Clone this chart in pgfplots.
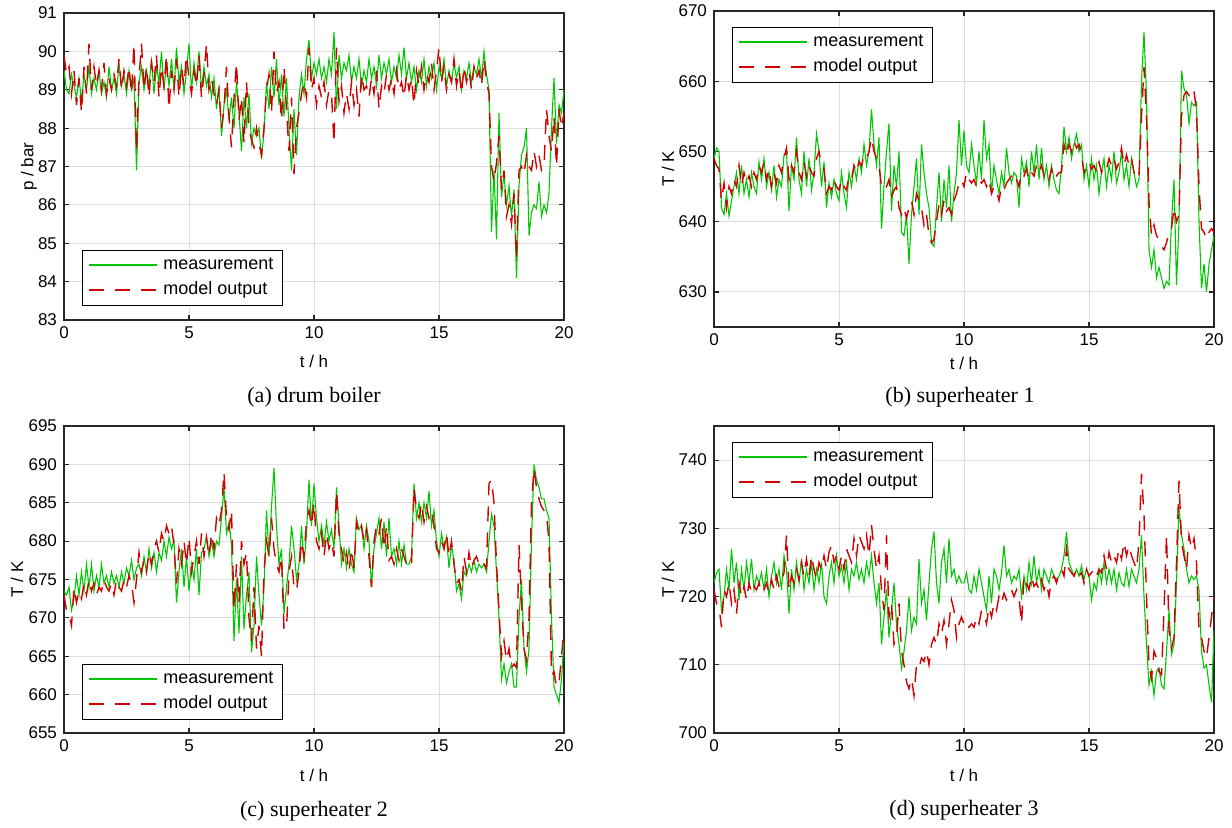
\documentclass[border=0pt]{standalone}
\usepackage{pgfplots}
\pgfplotsset{compat=1.18}
\usepackage{pgfplotstable}
\usepackage{fontspec}
\setmainfont{Liberation Serif}
\setsansfont{Liberation Sans}
\definecolor{meas}{RGB}{0,200,0}
\definecolor{mod}{RGB}{210,0,0}
\definecolor{gridc}{RGB}{222,222,222}
\definecolor{axc}{RGB}{38,38,38}

\pgfplotstableread{
t m o
0.0 89.5 89.9
0.1 89.0 89.4
0.2 88.9 89.6
0.3 89.4 88.9
0.4 89.1 89.5
0.5 88.8 88.6
0.6 89.3 89.3
0.7 88.7 88.4
0.8 89.4 89.6
0.9 89.0 88.9
1.0 89.6 90.2
1.1 88.9 89.0
1.2 89.3 89.6
1.3 89.0 89.1
1.4 89.5 89.5
1.5 88.9 89.0
1.6 89.2 89.7
1.7 88.8 88.9
1.8 89.6 89.3
1.9 89.0 89.0
2.0 89.3 89.4
2.1 88.9 89.1
2.2 89.7 89.8
2.3 89.1 89.0
2.4 89.4 89.5
2.5 88.9 89.1
2.6 89.5 89.6
2.7 89.0 88.9
2.8 89.3 90.2
2.9 86.9 87.4
3.0 89.2 89.3
3.1 89.6 90.2
3.2 89.0 89.0
3.3 89.5 89.6
3.4 89.1 88.8
3.5 89.8 89.7
3.6 88.9 89.2
3.7 89.6 89.9
3.8 89.2 88.8
3.9 90.0 89.6
4.0 89.0 89.1
4.1 89.7 89.9
4.2 89.1 88.5
4.3 89.8 89.5
4.4 89.0 89.0
4.5 90.1 89.8
4.6 89.2 88.8
4.7 89.6 89.6
4.8 88.9 89.1
4.9 89.5 89.9
5.0 90.2 89.3
5.1 89.0 88.9
5.2 89.7 89.5
5.3 89.2 89.1
5.4 90.0 89.9
5.5 89.0 88.8
5.6 89.6 89.4
5.7 89.1 90.2
5.8 89.4 89.0
5.9 88.8 89.3
6.0 89.3 88.9
6.1 88.5 88.6
6.2 89.1 89.0
6.3 87.8 88.0
6.4 88.6 88.5
6.5 89.0 89.6
6.6 88.2 88.3
6.7 88.8 87.5
6.8 88.0 88.8
6.9 89.2 89.7
7.0 88.4 88.2
7.1 87.4 88.8
7.2 88.8 87.6
7.3 88.0 89.2
7.4 88.9 88.0
7.5 87.6 87.7
7.6 88.0 87.5
7.7 87.8 88.0
7.8 88.0 87.6
7.9 87.2 87.3
8.0 87.9 88.0
8.1 89.2 89.0
8.2 88.5 89.4
8.3 89.6 88.4
8.4 88.8 90.0
8.5 89.8 88.9
8.6 88.6 89.2
8.7 89.4 88.2
8.8 88.3 89.6
8.9 89.3 88.5
9.0 88.0 87.4
9.1 86.9 88.8
9.2 88.5 86.8
9.3 87.3 88.0
9.4 88.8 88.4
9.5 89.4 88.9
9.6 88.9 89.2
9.7 89.8 88.8
9.8 90.3 90.1
9.9 89.3 89.0
10.0 89.7 89.3
10.1 89.4 88.6
10.2 89.8 89.1
10.3 89.3 88.8
10.4 89.6 89.2
10.5 89.2 88.6
10.6 89.8 89.0
10.7 89.4 88.9
10.8 90.5 87.6
10.9 88.5 90.1
11.0 89.9 88.7
11.1 89.3 89.1
11.2 89.7 88.4
11.3 89.5 88.9
11.4 89.9 88.5
11.5 89.2 89.2
11.6 89.6 88.6
11.7 89.3 89.0
11.8 89.8 88.3
11.9 89.1 89.4
12.0 89.5 89.0
12.1 89.2 89.1
12.2 89.8 88.8
12.3 89.3 89.3
12.4 89.6 88.9
12.5 89.1 89.5
12.6 89.9 88.5
12.7 89.3 89.1
12.8 89.7 88.9
12.9 89.4 89.4
13.0 89.8 89.0
13.1 89.2 89.3
13.2 89.6 88.9
13.3 89.3 89.5
13.4 89.9 89.0
13.5 89.4 89.2
13.6 90.1 88.8
13.7 89.3 89.4
13.8 89.7 89.0
13.9 89.2 89.3
14.0 89.6 88.6
14.1 89.0 89.5
14.2 89.5 89.1
14.3 89.2 89.6
14.4 89.8 89.0
14.5 89.1 89.4
14.6 89.6 89.2
14.7 89.3 89.7
14.8 89.7 89.0
14.9 89.0 89.5
15.0 89.6 90.1
15.1 89.3 89.2
15.2 89.8 89.6
15.3 89.1 89.0
15.4 89.5 89.4
15.5 89.2 89.2
15.6 89.7 89.8
15.7 89.3 89.1
15.8 89.6 89.5
15.9 89.0 88.9
16.0 89.5 89.6
16.1 89.3 89.2
16.2 89.7 89.5
16.3 89.2 89.0
16.4 89.6 89.6
16.5 89.4 89.3
16.6 89.8 89.5
16.7 89.3 89.1
16.8 90.0 89.8
16.9 89.4 89.2
17.0 89.0 88.9
17.1 85.3 87.0
17.2 86.9 86.6
17.3 85.1 87.1
17.4 88.4 87.8
17.5 86.2 86.4
17.6 86.8 86.9
17.7 86.0 85.7
17.8 86.5 86.0
17.9 85.7 85.5
18.0 86.4 86.3
18.1 84.1 84.6
18.2 86.5 86.9
18.3 87.3 87.0
18.4 87.5 86.8
18.5 88.0 87.3
18.6 85.2 87.0
18.7 85.8 86.9
18.8 86.0 87.4
18.9 85.9 87.0
19.0 86.6 87.3
19.1 85.7 86.9
19.2 86.0 87.0
19.3 85.8 88.5
19.4 86.3 87.8
19.5 88.0 87.4
19.6 89.3 88.3
19.7 87.6 87.0
19.8 88.6 88.5
19.9 88.4 88.0
20.0 89.0 88.4
}\dataA

\pgfplotstableread{
t m o
0.0 649 649
0.1 650.5 648
0.2 650 647.5
0.3 642 643
0.4 641 645.5
0.5 644 642
0.6 640.8 645
0.7 643 644
0.8 645 646
0.9 647 645
1.0 644 648
1.1 648 645
1.2 644 647
1.3 646 645.5
1.4 643.5 646.5
1.5 647 645
1.6 645 647
1.7 644 646
1.8 648.5 648
1.9 646 647
2.0 649 648.5
2.1 645 646
2.2 647 647.5
2.3 644.5 645
2.4 648 647
2.5 643.5 645.5
2.6 646 648
2.7 645 647
2.8 649.5 649
2.9 650 650.5
3.0 641.5 646
3.1 648 648
3.2 646 647
3.3 652 650
3.4 646 647
3.5 644 646
3.6 650 648.5
3.7 645 646.5
3.8 649 648
3.9 644.5 647
4.0 647 646.5
4.1 652.5 649
4.2 650 650
4.3 645 648
4.4 648.5 647.5
4.5 642 644
4.6 645.5 645
4.7 643.5 644.5
4.8 646 646
4.9 644 645
5.0 643 644.5
5.1 647 646
5.2 644 645
5.3 642 644.5
5.4 647 646.5
5.5 645 646
5.6 648 648
5.7 646 647
5.8 649 648.5
5.9 647 648
6.0 651 649.5
6.1 648 649
6.2 650 650
6.3 656 652
6.4 651 650
6.5 648 649
6.6 652 648
6.7 639 645
6.8 645 645.5
6.9 650 645
7.0 654 646
7.1 641.5 643.5
7.2 648 644.5
7.3 645 645
7.4 650 642
7.5 638.5 641
7.6 638 642
7.7 641 640.5
7.8 634 642
7.9 641 643
8.0 645 641
8.1 649 644
8.2 641 643
8.3 651 642
8.4 647 639.5
8.5 644 641
8.6 642 638
8.7 637 637
8.8 636.5 637.5
8.9 642 640
9.0 647 642.5
9.1 640 641
9.2 646 643
9.3 642 641.5
9.4 648 642
9.5 640 641
9.6 644 643
9.7 647 644
9.8 654.5 645.5
9.9 648 646
10.0 653 645
10.1 648 647
10.2 647 646
10.3 651 645.5
10.4 648 646
10.5 645.5 645
10.6 650 646
10.7 646 645.5
10.8 654.5 646
10.9 649 645
11.0 651 646
11.1 644 644
11.2 648 645
11.3 646 644.5
11.4 644 643
11.5 647 645
11.6 645 644.5
11.7 650.5 645.5
11.8 647 646
11.9 645.5 646.5
12.0 647 647
12.1 646.5 646
12.2 642 645
12.3 649 647
12.4 647 646.5
12.5 648.5 647.5
12.6 645 646
12.7 650 647
12.8 647 646.5
12.9 651 648
13.0 646 647
13.1 650.5 648
13.2 646 646.5
13.3 648 647
13.4 645 646
13.5 648 647.5
13.6 646 646
13.7 644.5 646.5
13.8 644 647
13.9 648 647
14.0 653.5 651
14.1 650 649.5
14.2 652 651
14.3 649 650
14.4 651 651.5
14.5 652.5 650.5
14.6 650 651
14.7 651 649.5
14.8 646 647
14.9 648 648
15.0 645 648.5
15.1 649 647.5
15.2 646 648
15.3 648 647
15.4 644 648.5
15.5 647 647
15.6 649 648
15.7 645 647.5
15.8 648 649
15.9 646 648
16.0 650 649
16.1 645.5 647.5
16.2 647 648.5
16.3 650 650.5
16.4 646 648
16.5 648 649.5
16.6 645 648
16.7 649 649
16.8 647 647
16.9 645 646
17.0 646 646.5
17.1 660 655
17.2 667 662
17.3 658 655
17.4 636 643
17.5 633.5 638
17.6 636 639.5
17.7 632 638
17.8 633.5 637.5
17.9 632 636.5
18.0 630.5 636
18.1 631.5 637
18.2 631 638.5
18.3 640 639
18.4 646 642
18.5 631 640
18.6 640 641
18.7 661.5 655
18.8 659 658
18.9 658 658.5
19.0 654 658
19.1 657 659
19.2 656.5 658.5
19.3 657 656
19.4 640 645
19.5 630.5 639
19.6 634 638.5
19.7 630 637.5
19.8 634 638.5
19.9 636 639
20.0 638 638.5
}\dataB

\pgfplotstableread{
t m o
0.0 673.5 673
0.1 673 671
0.2 674 670.5
0.3 671 669
0.4 672.5 674
0.5 675.5 672
0.6 673 673.5
0.7 676 672.5
0.8 673.5 674.5
0.9 677 673
1.0 674 675
1.1 677 673.5
1.2 673.5 674.5
1.3 675.5 673
1.4 674 674
1.5 677 673.5
1.6 674.5 675
1.7 675.5 674
1.8 674 673.5
1.9 676 674.5
2.0 674.5 673
2.1 675.5 675
2.2 674 674
2.3 676 673.5
2.4 674.5 675
2.5 676.5 674
2.6 675.5 675.5
2.7 677.5 674.5
2.8 675 672
2.9 676.5 675
3.0 677 678.5
3.1 675.5 676
3.2 678 677.5
3.3 676 676
3.4 679 678.5
3.5 676.5 677
3.6 678.5 679
3.7 676 680
3.8 678.5 678.5
3.9 677.5 681
4.0 680 680
4.1 678 682
4.2 680.5 681
4.3 679 682
4.4 680 679.5
4.5 672 674.5
4.6 676 679
4.7 679 677
4.8 674 680
4.9 678 677
5.0 673.5 680.5
5.1 677 676
5.2 675 678
5.3 679 680
5.4 673 677
5.5 678.5 681
5.6 679 678
5.7 680.5 680.5
5.8 678 678
5.9 680 681
6.0 678 679
6.1 680 683
6.2 679.5 682
6.3 683 684
6.4 687 689
6.5 681 683
6.6 682.5 681.5
6.7 679.5 684
6.8 667 671
6.9 675 677
7.0 668 672
7.1 678 680
7.2 668.5 677
7.3 673 678.5
7.4 676 670
7.5 665.5 667
7.6 669 674
7.7 678 666
7.8 673 669
7.9 669 665
8.0 674 676
8.1 684 680
8.2 678 678
8.3 684.5 683
8.4 689.5 679
8.5 682 677
8.6 677 676
8.7 679 678
8.8 670.5 668.5
8.9 674 668.5
9.0 677 676
9.1 682 678
9.2 679 674
9.3 675 673.5
9.4 677 676
9.5 682 680
9.6 677 678
9.7 681 682.5
9.8 688 684
9.9 682 682
10.0 687.5 685
10.1 683 680
10.2 680 679
10.3 682 681
10.4 679.5 678
10.5 682.5 681
10.6 680 679
10.7 681.5 680
10.8 679 678
10.9 687 686.5
11.0 682 681
11.1 677 679
11.2 679 677
11.3 676.5 678.5
11.4 679 676
11.5 677 679
11.6 676 676.5
11.7 683 682.5
11.8 681.5 681
11.9 682 682
12.0 679 680
12.1 682 681.5
12.2 680 678
12.3 674 674
12.4 679 680
12.5 681 682
12.6 683 681
12.7 679 683
12.8 682.5 679
12.9 678 682
13.0 683 677.5
13.1 678 678
13.2 679 677
13.3 677 679
13.4 680 677.5
13.5 677 679
13.6 679.5 678
13.7 677 677
13.8 677 676.5
13.9 678 677
14.0 687.5 687
14.1 683 684
14.2 685 683
14.3 682.5 685
14.4 685 682.5
14.5 683 684.5
14.6 686.5 683
14.7 682 684
14.8 684 682
14.9 680 679
15.0 678 678.5
15.1 681 680
15.2 679 679
15.3 680.5 681
15.4 676.5 678
15.5 679.5 680
15.6 677.5 677
15.7 673.5 674.5
15.8 674.5 675
15.9 672.5 673.5
16.0 676 678
16.1 675.5 676
16.2 677 678.5
16.3 676 676.5
16.4 677.5 677.5
16.5 676 678
16.6 677 677
16.7 676.5 677.5
16.8 677 677
16.9 676 676.5
17.0 680 687.5
17.1 683.5 688
17.2 682 685
17.3 676 677
17.4 670 671
17.5 662 665
17.6 664 667
17.7 661.5 664.5
17.8 663 666
17.9 664 663.5
18.0 661 664
18.1 661 663.5
18.2 670 679.5
18.3 675 672
18.4 666 666
18.5 663 664.5
18.6 666 670
18.7 680 685
18.8 690 689.5
18.9 688 687
19.0 687 685.5
19.1 685.5 684.5
19.2 685.5 684
19.3 684 683.5
19.4 683 680
19.5 670 662.5
19.6 661 663
19.7 660 661
19.8 659 661.5
19.9 662 665
20.0 667 668.5
}\dataC

\pgfplotstableread{
t m o
0.0 722 721
0.1 723.5 719
0.2 724 718.5
0.3 718 715.5
0.4 720 721
0.5 724 720
0.6 721 722
0.7 727 719
0.8 722 721
0.9 725 717.5
1.0 719.5 722
1.1 724 720
1.2 721 721.5
1.3 725 719.5
1.4 722 722
1.5 725.5 720.5
1.6 721 721.5
1.7 723 721
1.8 722 722
1.9 723.5 720.5
2.0 721 721
2.1 724 722
2.2 720 720.5
2.3 723 722.5
2.4 725 721
2.5 722 723
2.6 724 721.5
2.7 721 722
2.8 726 723.5
2.9 724 729
3.0 717.5 721
3.1 724 723
3.2 721 722
3.3 725 724
3.4 722 722.5
3.5 725.5 725
3.6 721 723
3.7 724 725.5
3.8 722 723
3.9 725 726
4.0 721 724
4.1 724 722.5
4.2 722 725
4.3 725 724
4.4 720 726
4.5 719 724
4.6 723 726.5
4.7 725 727.5
4.8 722 725
4.9 726 726
5.0 723 724
5.1 724.5 726
5.2 722 724
5.3 725 727
5.4 721 726
5.5 724 725
5.6 723 728.5
5.7 725 726
5.8 722.5 729
5.9 724 728
6.0 722 727
6.1 725 729
6.2 723 726
6.3 726 730.5
6.4 722 727
6.5 719 724
6.6 722 726
6.7 713 721
6.8 717 718
6.9 721 729
7.0 714 717
7.1 718 719
7.2 722 713
7.3 716 714
7.4 713 719
7.5 709.5 712
7.6 712 710
7.7 715 707.5
7.8 720 706.5
7.9 715 708
8.0 717 705.5
8.1 716 710
8.2 725.5 709.5
8.3 719 711
8.4 721 710.5
8.5 716.5 712
8.6 722 710
8.7 727 713
8.8 729.5 714
8.9 722 713
9.0 719 716
9.1 725 714.5
9.2 727 716.5
9.3 722 713
9.4 728.5 716
9.5 723 719.5
9.6 724 718
9.7 722 714
9.8 723 716
9.9 722 717
10.0 722 716
10.1 723.5 716.5
10.2 721 715.5
10.3 720.5 716
10.4 723 715.5
10.5 721 717
10.6 724 716
10.7 722 718
10.8 720 717.5
10.9 718 716
11.0 723 718.5
11.1 719 717
11.2 724 719
11.3 723 718
11.4 721 720
11.5 723.5 719
11.6 727.5 720.5
11.7 723 719.5
11.8 724 720
11.9 722 721
12.0 723 720
12.1 722.5 721
12.2 724 720
12.3 720 716
12.4 723 723
12.5 721 722
12.6 725 721
12.7 722 723
12.8 726 721.5
12.9 722 722
13.0 724 721
13.1 721 722.5
13.2 724 721
13.3 723 722
13.4 722 720
13.5 724 722.5
13.6 723 723
13.7 722.5 722
13.8 723 723.5
13.9 724 724
14.0 726 723
14.1 729.5 727
14.2 725 724
14.3 724 723.5
14.4 723 723
14.5 724 724
14.6 723 723
14.7 724.5 723.5
14.8 722.5 722
14.9 724 724
15.0 723 723
15.1 719.5 723.5
15.2 722 724
15.3 721 723
15.4 724 724
15.5 722 723.5
15.6 725 726
15.7 722 724
15.8 724 726.5
15.9 722 725
16.0 724 726
16.1 721 725
16.2 723.5 727
16.3 722 725.5
16.4 721.5 728
16.5 724 726
16.6 721.5 727.5
16.7 724 726
16.8 723 725
16.9 722 724
17.0 724 728
17.1 729 738
17.2 720 732
17.3 713 720
17.4 707 710
17.5 709 708
17.6 705.5 712
17.7 709 711
17.8 709.5 709
17.9 707 708.5
18.0 706.5 718
18.1 712 729
18.2 718 715
18.3 711.5 712.5
18.4 713 714
18.5 722 725
18.6 733 737
18.7 729 728
18.8 727 726
18.9 724 724
19.0 722 729
19.1 723 727
19.2 722.5 728.5
19.3 723 725
19.4 721 715
19.5 712 714
19.6 709.5 712
19.7 710 711
19.8 707 714
19.9 704.5 717
20.0 715 720
}\dataD

\pgfplotsset{
  myax/.style={
    scale only axis,
    width=250pt,
    xmin=0, xmax=20,
    xtick={0,5,10,15,20},
    grid=major,
    major grid style={gridc, line width=0.5pt},
    axis line style={axc, line width=0.6pt},
    tick style={axc, line width=0.6pt},
    major tick length=2.5pt,
    tick align=inside,
    tick pos=both,
    /pgf/number format/assume math mode=true,
    /pgf/number format/1000 sep={},
    ticklabel style={font=\sffamily\fontsize{8.5}{10}\selectfont, text=black},
    label style={font=\sffamily\fontsize{8.5}{10}\selectfont},
    xlabel={t / h},
  },
  measp/.style={meas, line width=0.55pt},
  modp/.style={mod, line width=0.7pt, dash pattern=on 7.5pt off 5.5pt},
}

% custom legend box: #1,#2 = top-left corner in pt
\newcommand{\mylegend}[2]{%
  \begin{scope}[shift={(#1pt,-#2pt)}]
    \draw[black, line width=0.5pt, fill=white] (0pt,0pt) rectangle (100pt,-27.5pt);
    \draw[meas, line width=0.7pt] (3.5pt,-7.5pt) -- (37.5pt,-7.5pt);
    \draw[mod, line width=0.7pt, dash pattern=on 7.5pt off 5.5pt] (3.5pt,-20pt) -- (37.5pt,-20pt);
    \node[anchor=mid west, inner sep=0pt, font=\sffamily\fontsize{9}{11}\selectfont] at (40.5pt,-7.5pt) {measurement};
    \node[anchor=mid west, inner sep=0pt, font=\sffamily\fontsize{9}{11}\selectfont] at (40.5pt,-20pt) {model output};
  \end{scope}}

\begin{document}
\begin{tikzpicture}
\path[use as bounding box] (0pt,0pt) rectangle (616pt,-413.5pt);

% (a)
\begin{axis}[myax, at={(32pt,-160pt)}, anchor=south west, height=153.5pt,
  ymin=83, ymax=91, ytick={83,84,...,91},
  ylabel={p / bar},
  ylabel style={at={(axis description cs:-0.07,0.5)}, anchor=center},
  xlabel style={at={(axis description cs:0.5,-0.134)}, anchor=center}]
\addplot[measp] table[x=t, y=m] {\dataA};
\addplot[modp] table[x=t, y=o] {\dataA};
\end{axis}
\mylegend{41}{125}
\node[font=\fontsize{11}{13}\selectfont] at (157pt,-198.5pt) {(a) drum boiler};

% (b)
\begin{axis}[myax, at={(357pt,-163.5pt)}, anchor=south west, height=158pt,
  ymin=625, ymax=670, ytick={630,640,...,670},
  ylabel={T / K},
  ylabel style={at={(axis description cs:-0.092,0.5)}, anchor=center},
  xlabel style={at={(axis description cs:0.5,-0.114)}, anchor=center}]
\addplot[measp] table[x=t, y=m] {\dataB};
\addplot[modp] table[x=t, y=o] {\dataB};
\end{axis}
\mylegend{366}{13.5}
\node[font=\fontsize{11}{13}\selectfont] at (480pt,-198.5pt) {(b) superheater 1};

% (c)
\begin{axis}[myax, at={(32pt,-366.5pt)}, anchor=south west, height=153.5pt,
  ymin=655, ymax=695, ytick={655,660,...,695},
  ylabel={T / K},
  ylabel style={at={(axis description cs:-0.094,0.5)}, anchor=center},
  xlabel style={at={(axis description cs:0.5,-0.137)}, anchor=center}]
\addplot[measp] table[x=t, y=m] {\dataC};
\addplot[modp] table[x=t, y=o] {\dataC};
\end{axis}
\mylegend{41}{332}
\node[font=\fontsize{11}{13}\selectfont] at (157pt,-405.5pt) {(c) superheater 2};

% (d)
\begin{axis}[myax, at={(357pt,-366.5pt)}, anchor=south west, height=153.5pt,
  ymin=700, ymax=745, ytick={700,710,...,740},
  ylabel={T / K},
  ylabel style={at={(axis description cs:-0.092,0.5)}, anchor=center},
  xlabel style={at={(axis description cs:0.5,-0.137)}, anchor=center}]
\addplot[measp] table[x=t, y=m] {\dataD};
\addplot[modp] table[x=t, y=o] {\dataD};
\end{axis}
\mylegend{366}{221}
\node[font=\fontsize{11}{13}\selectfont] at (482pt,-405pt) {(d) superheater 3};
\end{tikzpicture}
\end{document}
